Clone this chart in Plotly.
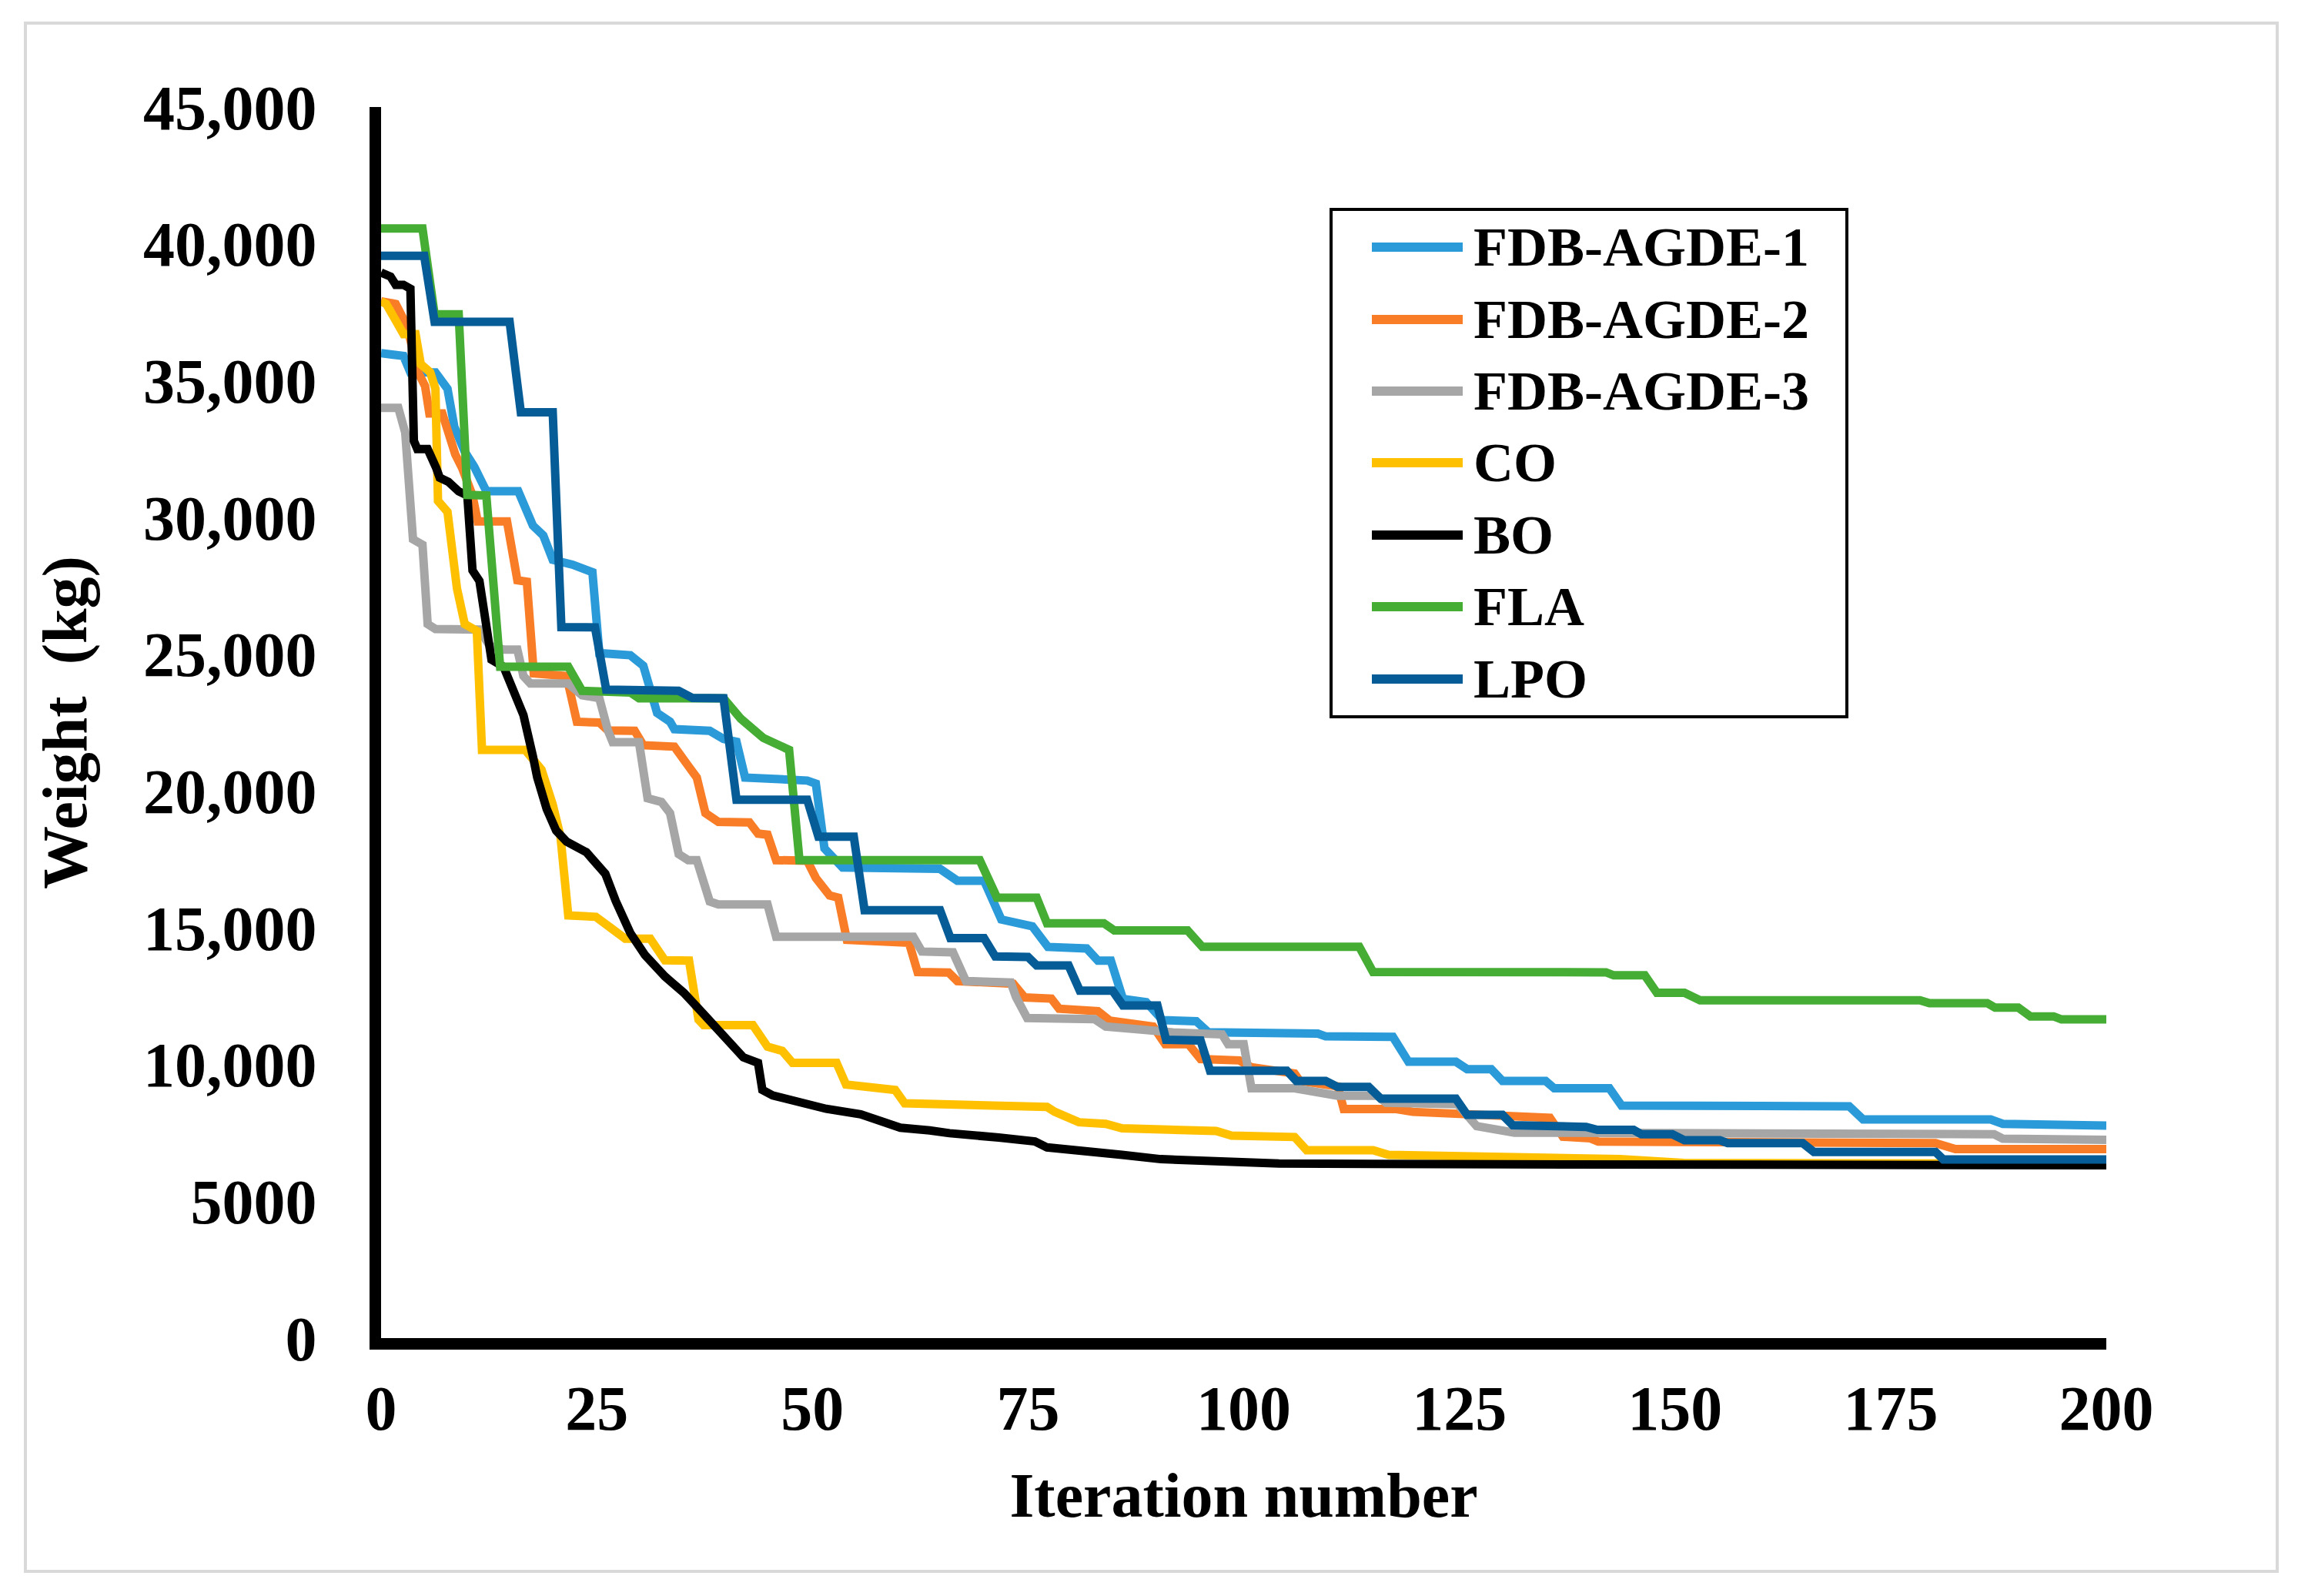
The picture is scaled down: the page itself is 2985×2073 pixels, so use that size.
import plotly.graph_objects as go

# ---------------- data ----------------
series_names = ["FDB-AGDE-1", "FDB-AGDE-2", "FDB-AGDE-3", "CO", "BO", "FLA", "LPO"]
series_colors = ["#2A9AD8", "#F97C26", "#A6A6A6", "#FFC000", "#000000", "#45AC34", "#055C96"]

# FDB-AGDE-1 (iteration, weight in kg/1000)
agde1_x = [0, 2.6, 3.4, 6.3, 7.7, 8.5, 9.7, 10.8, 12.2, 15.9, 17.6, 18.8, 19.9, 22.2, 24.5, 25.3,
           28.9, 30.4, 32.0, 33.5, 34.0, 38.1, 39.7, 41.2, 42.2, 49.4, 50.4, 51.4, 53.5, 64.8, 66.8,
           69.9, 71.9, 75.5, 77.3, 81.8, 83.1, 84.6, 86.0, 88.7, 90.6, 94.5, 95.9, 108.6, 109.5,
           117.3, 119.1, 124.6, 125.9, 128.7, 130.0, 135.0, 136.0, 142.4, 143.8, 165.7, 170.2,
           171.8, 186.6, 188.0, 196.2, 200]
agde1_y = [36.0, 35.9, 35.3, 35.3, 34.7, 33.3, 32.4, 31.85, 30.96, 30.96, 29.7, 29.34, 28.45, 28.27,
           28.0, 25.04, 24.96, 24.58, 22.85, 22.53, 22.26, 22.2, 21.9, 21.8, 20.49, 20.38, 20.27,
           17.9, 17.2, 17.15, 16.72, 16.72, 15.3, 15.05, 14.3, 14.24, 13.8, 13.8, 12.4, 12.28, 11.62,
           11.58, 11.18, 11.13, 11.03, 11.01, 10.1, 10.1, 9.83, 9.83, 9.4, 9.4, 9.13, 9.13, 8.5, 8.5,
           8.47, 7.99, 7.99, 7.83, 7.83, 7.77]

# FDB-AGDE-2
agde2_x = [0, 1.7, 3.0, 4.3, 5.1, 5.6, 7.1, 8.6, 9.4, 10.6, 11.2, 14.6, 15.8, 16.9, 17.7, 21.5,
           22.7, 25.3, 26.3, 29.4, 30.4, 34.0, 35.6, 36.6, 37.6, 39.1, 42.7, 43.7, 44.8, 45.8, 49.4,
           50.4, 52.0, 53.0, 54.0, 61.2, 62.2, 65.8, 66.8, 73.3, 74.6, 77.7, 78.6, 83.1, 84.5, 89.5,
           90.9, 93.6, 95.0, 99.5, 100.9, 105.9, 106.5, 110.9, 111.6, 117.7, 119.6, 126.4, 135.5,
           137.0, 140.2, 141.1, 165.7, 180.2, 182.5, 200]
agde2_y = [37.9, 37.8, 37.0, 35.3, 34.8, 33.8, 33.8, 32.3, 31.8, 30.8, 29.85, 29.85, 27.7, 27.65,
           24.3, 24.2, 22.53, 22.5, 22.21, 22.2, 21.67, 21.62, 20.92, 20.49, 19.19, 18.87, 18.85,
           18.44, 18.4, 17.47, 17.45, 16.82, 16.18, 16.1, 14.56, 14.45, 13.38, 13.36, 13.05, 12.95,
           12.45, 12.41, 12.04, 11.95, 11.6, 11.39, 10.74, 10.74, 10.2, 10.15, 9.9, 9.67, 9.4, 9.2,
           8.37, 8.37, 8.27, 8.16, 8.05, 7.36, 7.3, 7.18, 7.18, 7.13, 6.91, 6.91]

# FDB-AGDE-3
agde3_x = [0, 2.0, 2.8, 3.7, 4.8, 5.4, 6.3, 11.4, 12.6, 14.2, 15.8, 16.5, 17.3, 21.7, 23.3, 25.3,
           26.3, 26.85, 29.9, 30.9, 32.5, 33.5, 34.5, 35.6, 36.6, 38.1, 39.1, 44.8, 45.8, 61.7, 62.7,
           66.3, 67.8, 73.0, 73.6, 74.9, 82.7, 84.0, 88.1, 91.8, 97.5, 98.2, 100.0, 100.9, 105.9,
           110.9, 115.5, 116.5, 124.8, 126.0, 127.0, 131.4, 187.0, 188.0, 200]
agde3_y = [34.0, 34.0, 33.1, 29.2, 29.0, 26.1, 25.92, 25.9, 25.3, 25.17, 25.17, 24.2, 23.93, 23.93,
           23.5, 23.39, 22.21, 21.78, 21.78, 19.73, 19.6, 19.19, 17.69, 17.47, 17.47, 15.96, 15.85,
           15.85, 14.67, 14.67, 14.13, 14.1, 13.05, 13.0, 12.47, 11.7, 11.66, 11.39, 11.28, 11.17,
           11.1, 10.74, 10.74, 9.13, 9.13, 8.86, 8.86, 8.6, 8.55, 8.05, 7.75, 7.51, 7.45, 7.29, 7.25]

# CO
co_x = [0, 0.6, 1.7, 2.6, 4.0, 4.6, 5.7, 6.3, 6.6, 7.7, 8.8, 9.7, 11.1, 11.7, 16.7, 18.6, 19.9,
        20.8, 21.7, 24.9, 26.6, 28.3, 31.2, 32.9, 35.7, 36.8, 37.4, 43.1, 44.8, 46.5, 47.7, 52.8,
        53.9, 59.6, 60.7, 77.2, 78.1, 80.9, 84.0, 85.9, 91.3, 96.8, 98.6, 105.9, 107.3, 115.0,
        116.8, 126.8, 143.6, 151.0, 200]
co_y = [37.9, 37.8, 37.2, 36.7, 36.7, 35.6, 35.3, 34.7, 30.6, 30.2, 27.4, 26.1, 25.85, 21.5, 21.5,
        20.78, 19.5, 18.33, 15.45, 15.4, 15.0, 14.6, 14.6, 13.81, 13.8, 11.64, 11.44, 11.44, 10.65,
        10.5, 10.06, 10.06, 9.27, 9.07, 8.58, 8.45, 8.27, 7.89, 7.83, 7.67, 7.62, 7.57, 7.4, 7.35,
        6.87, 6.87, 6.7, 6.65, 6.54, 6.4, 6.37]

# BO
bo_x = [0, 1.1, 1.7, 2.6, 3.4, 3.8, 4.2, 5.4, 6.4, 6.8, 7.8, 9.0, 10.0, 10.6, 11.4, 12.0, 12.8,
        14.2, 15.8, 16.5, 17.6, 18.1, 19.2, 20.3, 21.5, 23.8, 26.0, 27.2, 28.9, 30.6, 32.9, 35.1,
        37.4, 39.7, 42.0, 43.7, 44.2, 45.4, 47.7, 51.6, 55.6, 60.2, 63.6, 65.9, 71.6, 75.8, 77.2,
        81.3, 85.9, 90.4, 96.8, 104.1, 130.0, 200]
bo_y = [38.95, 38.8, 38.5, 38.5, 38.36, 32.8, 32.5, 32.5, 31.8, 31.45, 31.3, 30.95, 30.8, 28.06,
        27.68, 26.3, 24.8, 24.54, 23.3, 22.78, 21.27, 20.5, 19.34, 18.55, 18.15, 17.76, 16.97,
        15.98, 14.8, 14.0, 13.22, 12.62, 11.84, 11.05, 10.26, 10.06, 9.07, 8.87, 8.68, 8.38, 8.18,
        7.69, 7.59, 7.49, 7.33, 7.19, 6.97, 6.87, 6.7, 6.54, 6.43, 6.38, 6.35, 6.32]

# FLA
fla_x = [0, 4.8, 6.2, 9.0, 10.0, 12.2, 13.8, 21.7, 23.3, 28.9, 29.9, 39.7, 41.7, 44.3, 47.3, 48.5,
         69.4, 71.4, 76.0, 77.2, 83.8, 85.0, 93.5, 95.2, 113.4, 115.0, 142.0, 142.9, 146.5, 147.9,
         151.1, 152.9, 178.4, 179.5, 186.2, 187.1, 189.8, 191.2, 193.9, 194.8, 200]
fla_y = [40.56, 40.56, 37.42, 37.42, 30.82, 30.8, 24.54, 24.54, 23.66, 23.6, 23.39, 23.39, 22.64,
         21.94, 21.5, 17.47, 17.47, 16.1, 16.1, 15.16, 15.16, 14.9, 14.9, 14.3, 14.3, 13.38, 13.37,
         13.26, 13.26, 12.62, 12.62, 12.35, 12.35, 12.24, 12.24, 12.08, 12.08, 11.76, 11.76, 11.65,
         11.65]

# LPO
lpo_x = [0, 5.0, 6.2, 14.9, 16.2, 19.9, 20.9, 24.8, 26.1, 34.5, 36.1, 39.7, 41.2, 49.4, 50.7, 54.8,
         56.05, 64.8, 66.0, 69.9, 71.2, 75.0, 76.0, 79.7, 81.0, 84.8, 86.0, 90.0, 91.0, 95.0, 96.1,
         105.0, 106.1, 109.5, 110.9, 114.5, 115.9, 124.6, 125.9, 130.0, 131.2, 139.7, 141.0, 145.2,
         146.1, 149.7, 151.1, 155.2, 156.1, 164.8, 166.1, 180.2, 181.1, 200]
lpo_y = [39.56, 39.56, 37.15, 37.15, 33.84, 33.84, 25.99, 25.98, 23.7, 23.66, 23.4, 23.39, 19.68,
         19.68, 18.33, 18.33, 15.64, 15.64, 14.62, 14.62, 13.95, 13.93, 13.62, 13.62, 12.7, 12.7,
         12.16, 12.16, 10.9, 10.88, 9.77, 9.77, 9.4, 9.4, 9.18, 9.18, 8.75, 8.75, 8.16, 8.16, 7.78,
         7.72, 7.61, 7.61, 7.45, 7.45, 7.23, 7.23, 7.13, 7.13, 6.8, 6.8, 6.53, 6.53]

series_x = [agde1_x, agde2_x, agde3_x, co_x, bo_x, fla_x, lpo_x]
series_y = [agde1_y, agde2_y, agde3_y, co_y, bo_y, fla_y, lpo_y]

y_tickvals = [0, 5000, 10000, 15000, 20000, 25000, 30000, 35000, 40000, 45000]
y_ticktext = ["0", "5000", "10,000", "15,000", "20,000", "25,000", "30,000", "35,000", "40,000", "45,000"]
x_tickvals = [0, 25, 50, 75, 100, 125, 150, 175, 200]

# ---------------- figure ----------------
W, H = 2985, 2073
OFFX, OFFY = 4, 8  # page body margin compensation
ML, MR, MT, MB = 491 - OFFX, 253 + OFFX, 139 - OFFY, 335 + OFFY
PW, PH = W - ML - MR, H - MT - MB

def px_x(p):  # reference pixel -> paper x
    return (p - 8 - ML) / PW

def px_y(p):  # reference pixel -> paper y
    return (H - MB - (p - OFFY)) / PH

FONT = "Liberation Serif"

fig = go.Figure()
for name, color, xs, ys in zip(series_names, series_colors, series_x, series_y):
    fig.add_trace(go.Scatter(
        x=xs, y=[v * 1000 for v in ys], mode="lines", name=name,
        line=dict(color=color, width=11), showlegend=False,
    ))

# legend drawn by hand (Excel-style long sample lines)
leg_rows = [321, 415, 508, 601, 695, 788, 882]
shapes = [
    dict(type="rect", xref="paper", yref="paper",
         x0=px_x(1729), x1=px_x(2399), y0=px_y(931), y1=px_y(272),
         line=dict(color="black", width=4), fillcolor="white", layer="above"),
    dict(type="rect", xref="paper", yref="paper",
         x0=px_x(33), x1=px_x(2958), y0=px_y(2041), y1=px_y(30),
         line=dict(color="#D9D9D9", width=4), layer="below"),
]
annotations = []
for name, color, ry in zip(series_names, series_colors, leg_rows):
    shapes.append(dict(type="line", xref="paper", yref="paper",
                       x0=px_x(1782), x1=px_x(1900), y0=px_y(ry), y1=px_y(ry),
                       line=dict(color=color, width=12), layer="above"))
    annotations.append(dict(text=name, xref="paper", yref="paper",
                            x=px_x(1912), y=px_y(ry), xanchor="left", yanchor="middle",
                            showarrow=False,
                            font=dict(family=FONT, size=72, color="black", weight="bold")))

fig.update_layout(
    width=W, height=H,
    margin=dict(l=ML, r=MR, t=MT, b=MB, autoexpand=False),
    paper_bgcolor="white", plot_bgcolor="white",
    shapes=shapes, annotations=annotations,
    showlegend=False,
)
fig.update_xaxes(
    range=[0, 200], tickvals=x_tickvals, ticktext=[str(v) for v in x_tickvals],
    showgrid=False, zeroline=False, showline=True, linecolor="black", linewidth=15,
    ticks="", ticklabelstandoff=6,
    tickfont=dict(family=FONT, size=82, color="black", weight="bold"),
    title=dict(text="Iteration number", standoff=45,
               font=dict(family=FONT, size=82, color="black", weight="bold")),
    automargin=False,
)
fig.update_yaxes(
    range=[0, 45000], tickvals=y_tickvals, ticktext=y_ticktext,
    showgrid=False, zeroline=False, showline=True, linecolor="black", linewidth=15,
    ticks="", ticklabelstandoff=52,
    tickfont=dict(family=FONT, size=82, color="black", weight="bold"),
    title=dict(text="Weight  (kg)", standoff=53,
               font=dict(family=FONT, size=82, color="black", weight="bold")),
    automargin=False,
)

fig.write_html("out.html", config={"displayModeBar": False})
